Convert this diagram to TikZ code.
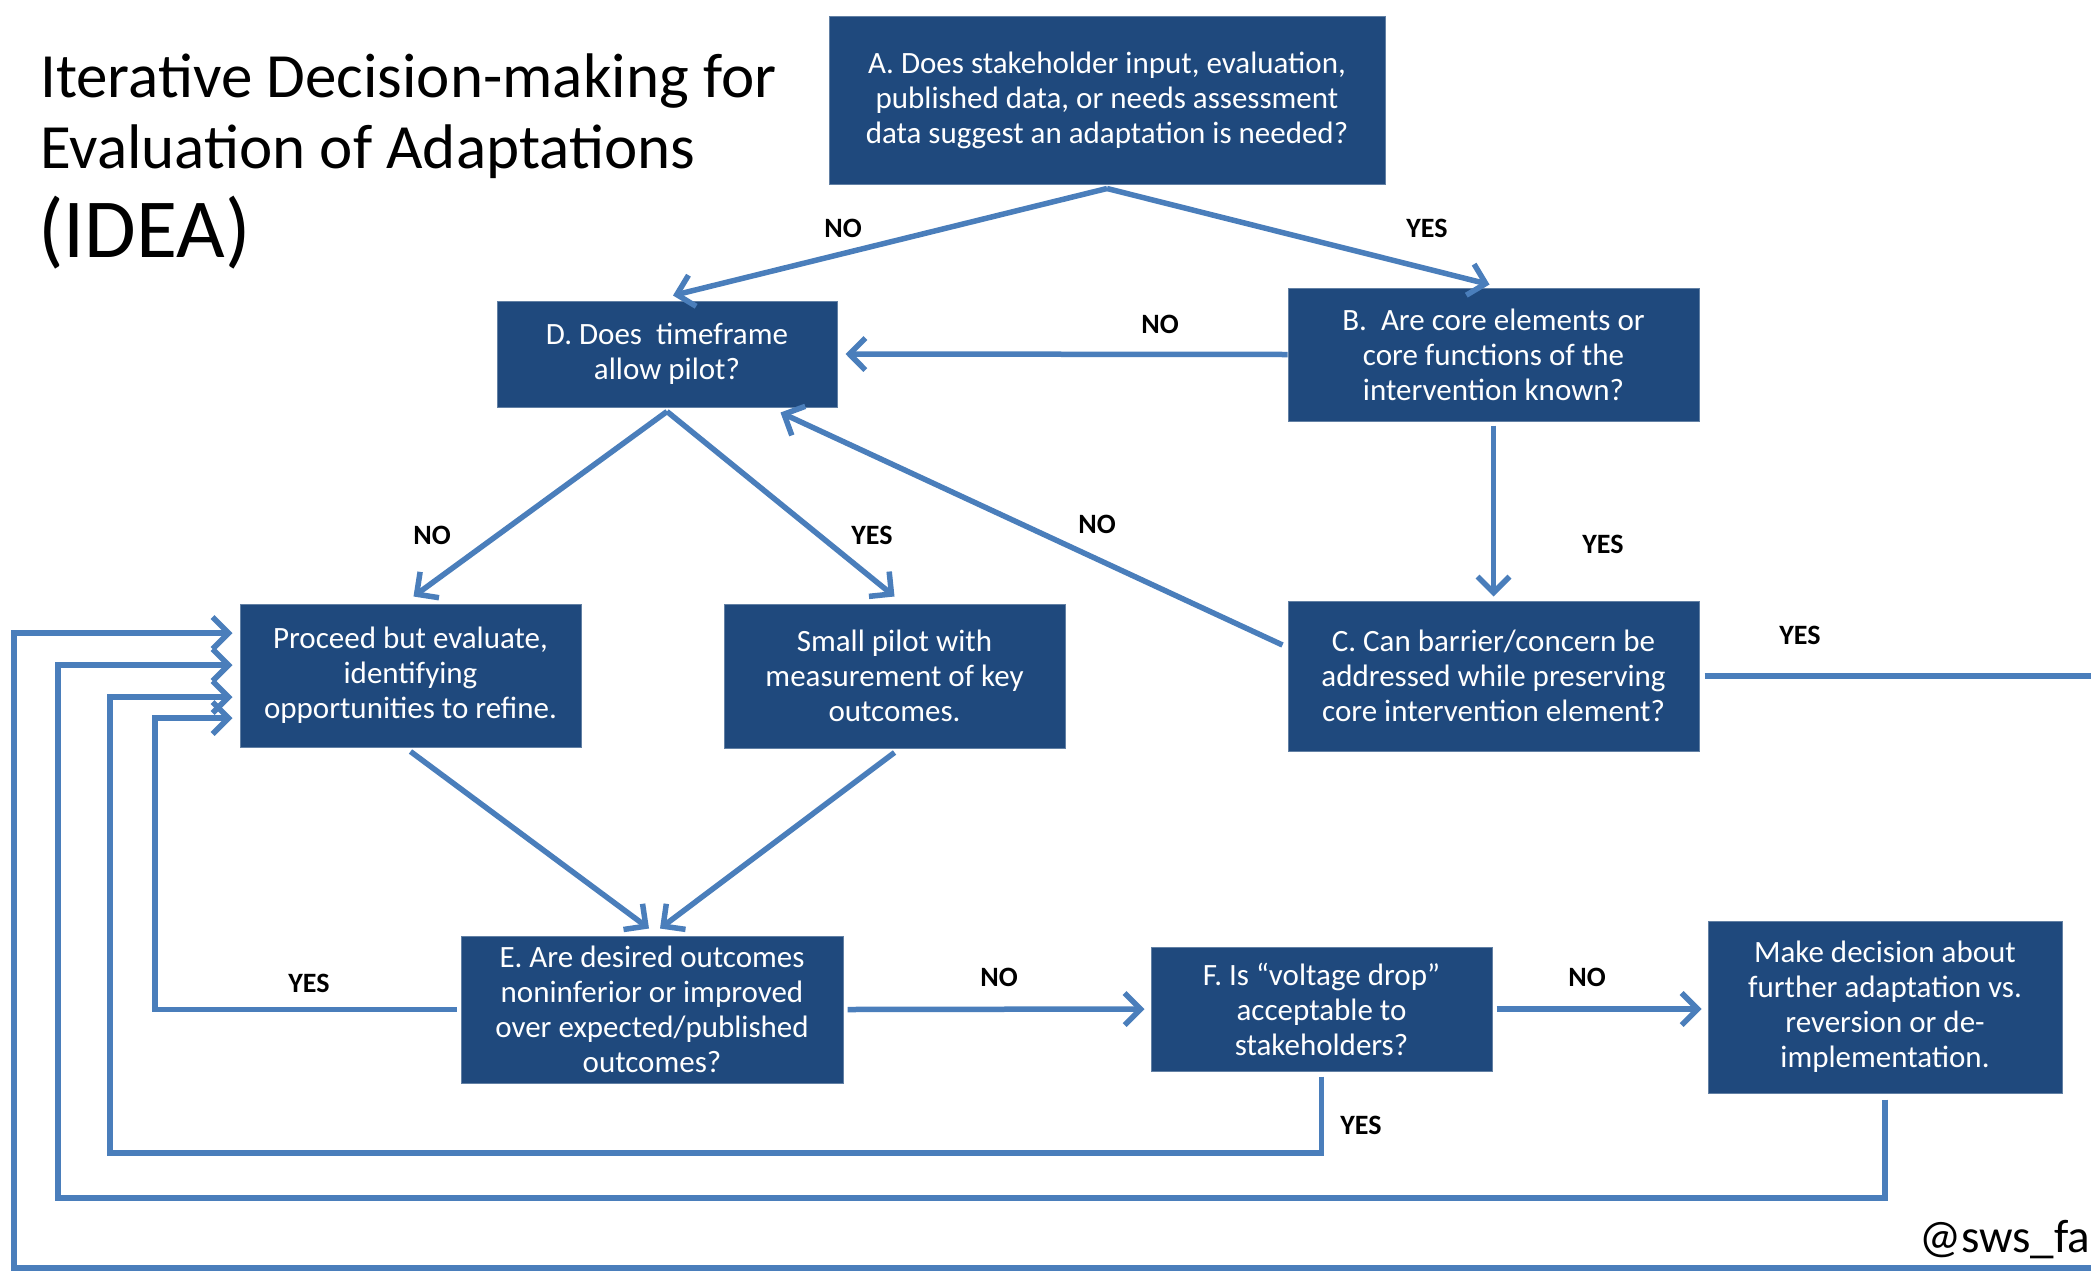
\documentclass[tikz,border=0pt]{standalone}
\usepackage{fontspec}
\setmainfont{Carlito}
\usetikzlibrary{arrows.meta,calc}
\definecolor{boxblue}{HTML}{1F497D}
\definecolor{linkblue}{HTML}{4A7EBB}
\tikzset{
  box/.style={fill=boxblue, draw=boxblue!70!white, line width=1pt, text=white, align=center, inner sep=0pt,
    font=\fontsize{31}{35}\selectfont},
  arr/.style={draw=linkblue, line width=5.5pt, -{Straight Barb[length=16pt,width=32pt]}},
  plain/.style={draw=linkblue, line width=5.5pt},
  lbl/.style={font=\fontsize{28}{30}\selectfont\bfseries, text=black, inner sep=0pt},
  ttl/.style={font=\fontsize{63}{70}\selectfont, anchor=base west, inner sep=0pt}
}
\begin{document}
\begin{tikzpicture}[x=1pt,y=-1pt]
\useasboundingbox[fill=white] (0,0) rectangle (2091,1272);

% title
\node[ttl] (t1) at (40,97) {Iterative Decision-making for};
\node[ttl] (t2) at (40,168) {Evaluation of Adaptations};
\node[ttl, font=\fontsize{84}{90}\selectfont] (t3) at (38,257) {(IDEA)};

% boxes
\node[box, minimum width=556pt, minimum height=168pt] (A) at (1107,100)
  {A. Does stakeholder input, evaluation,\\published data, or needs assessment\\data suggest an adaptation is needed?};
\node[box, minimum width=340pt, minimum height=106pt] (D) at (667,354)
  {D. Does\ \ timeframe\\allow pilot?};
\node[box, minimum width=411pt, minimum height=133pt] (B) at (1493.5,354.5)
  {B.\ \ Are core elements or\\core functions of the\\intervention known?};
\node[box, minimum width=341pt, minimum height=143pt] (P) at (410.5,675.5)
  {Proceed but evaluate,\\identifying\\opportunities to refine.};
\node[box, minimum width=341pt, minimum height=144pt] (S) at (894.5,676)
  {Small pilot with\\measurement of key\\outcomes.};
\node[box, minimum width=411pt, minimum height=150pt] (C) at (1493.5,676)
  {C. Can barrier/concern be\\addressed while preserving\\core intervention element?};
\node[box, minimum width=382pt, minimum height=147pt] (E) at (652,1009.5)
  {E. Are desired outcomes\\noninferior or improved\\over expected/published\\outcomes?};
\node[box, minimum width=341pt, minimum height=124pt] (F) at (1321.5,1009)
  {F. Is ``voltage drop''\\acceptable to\\stakeholders?};
\node[box, minimum width=354pt, minimum height=172pt] (M) at (1885,1007)
  {Make decision about\\further adaptation vs.\\reversion or de-\\implementation.};

% free ends
\coordinate (cR) at (2091,676);
\coordinate (bR) at (2091,1268);
\coordinate (bL) at (14,1268);
\coordinate (fB) at (110,1153);
\coordinate (mB) at (58,1198);
\coordinate (eL) at (155,1009.5);

% connectors
\draw[arr] ([yshift=-4pt]A.south) -- ([xshift=6pt,yshift=5pt]D.north);
\draw[arr] ([yshift=-4pt]A.south) -- ([xshift=-4pt,yshift=3pt]B.north);
\draw[arr] (B.west) -- ([xshift=8pt]D.east);
\draw[arr] ([yshift=-4pt]B.south) -- ([yshift=4pt]C.north);
\draw[arr] ([xshift=-5pt,yshift=31pt]C.west) -- ([xshift=-57pt,yshift=-5pt]D.south east);
\draw[arr] ([yshift=-4pt]D.south) -- ([xshift=3pt,yshift=7pt]P.north);
\draw[arr] ([yshift=-4pt]D.south) -- ([yshift=7pt]S.north);
\draw[arr] ([yshift=-4pt]P.south) -- ([xshift=-3pt,yshift=7pt]E.north);
\draw[arr] ([yshift=-4pt]S.south) -- ([xshift=8pt,yshift=7pt]E.north);
\draw[arr] ([xshift=-4pt]E.west) -- (eL) |- ([xshift=-7pt,yshift=-42.5pt]P.west);
\draw[arr] ([xshift=4pt]E.east) -- ([xshift=-6pt]F.west);
\draw[arr] ([xshift=4pt]F.east) -- ([xshift=-6pt,yshift=-2pt]M.west);
\draw[arr] ([yshift=-5pt]F.south) |- (fB) |- ([xshift=-7pt,yshift=-21.5pt]P.west);
\draw[arr] ([yshift=-6pt]M.south) |- (mB) |- ([xshift=-7pt,yshift=10.5pt]P.west);
\draw[plain] ([xshift=5pt]C.east) -- (cR);
\draw[arr] (bR) -- (bL) |- ([xshift=-7pt,yshift=42.5pt]P.west);

% labels
\node[lbl] (l1) at (843,228) {NO};
\node[lbl] (l2) at (1427,228) {YES};
\node[lbl] (l3) at (1160,324) {NO};
\node[lbl] (l4) at (1603,544) {YES};
\node[lbl] (l5) at (1097,524) {NO};
\node[lbl] (l6) at (432,535) {NO};
\node[lbl] (l7) at (872,535) {YES};
\node[lbl] (l8) at (1800,635) {YES};
\node[lbl] (l9) at (309,983) {YES};
\node[lbl] (l10) at (999,977) {NO};
\node[lbl] (l11) at (1587,977) {NO};
\node[lbl] (l12) at (1361,1125) {YES};

\node[font=\fontsize{47}{50}\selectfont, anchor=base west, inner sep=0pt] (tag) at (1919,1252) {@sws\_fa};
\end{tikzpicture}
\end{document}
